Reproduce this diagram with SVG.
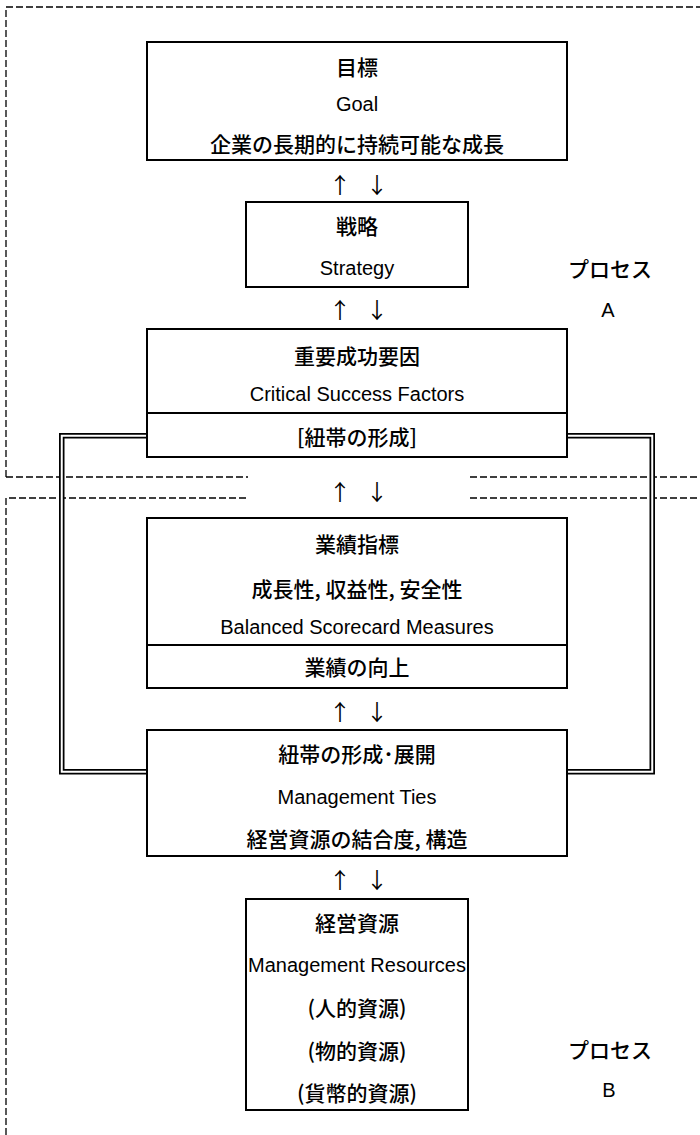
<svg xmlns="http://www.w3.org/2000/svg" width="700" height="1135" viewBox="0 0 700 1135">
<style>
.box{fill:#fff;stroke:#000;stroke-width:2}
.div{stroke:#000;stroke-width:2;fill:none}
.dash{fill:none;stroke:#000;stroke-width:1.3;stroke-dasharray:7 3}
.jp{font-family:"Noto Sans CJK JP","Noto Sans CJK SC",sans-serif;font-size:21px;font-weight:500;fill:#000;text-anchor:middle;dominant-baseline:central}
.en{font-family:"Liberation Sans",Arial,sans-serif;font-size:20px;fill:#000;text-anchor:middle;dominant-baseline:central}
.arr{font-family:"Noto Sans CJK JP",sans-serif;font-size:22px;fill:#000;text-anchor:middle;dominant-baseline:central}
</style>
<rect width="700" height="1135" fill="#fff"/>
<g id="regionA">
<path class="dash" d="M6,477 V7 H700 M6,477 H248 M470,477 H700"/>
</g>
<g id="regionB">
<path class="dash" d="M6,1135 V498 H248 M470,498 H700"/>
</g>
<g id="connectors">
<path d="M147,435.75 H61.75 V771.75 H147 M567,435.75 H652.25 V771.75 H567" fill="none" stroke="#000" stroke-width="5.5"/>
<path d="M147,435.75 H61.75 V771.75 H147 M567,435.75 H652.25 V771.75 H567" fill="none" stroke="#fff" stroke-width="2"/>
<text class="arr" x="340" y="183">↑</text><text class="arr" x="377" y="183">↓</text>
<text class="arr" x="340" y="308">↑</text><text class="arr" x="377" y="308">↓</text>
<text class="arr" x="340" y="490">↑</text><text class="arr" x="377" y="490">↓</text>
<text class="arr" x="340" y="710">↑</text><text class="arr" x="377" y="710">↓</text>
<text class="arr" x="340" y="878">↑</text><text class="arr" x="377" y="878">↓</text>
</g>
<g id="goal">
<rect class="box" x="147" y="42" width="420" height="118"/>
<text class="jp" x="357" y="66">目標</text>
<text class="en" x="357" y="104">Goal</text>
<text class="jp" x="357" y="143">企業の長期的に持続可能な成長</text>
</g>
<g id="strategy">
<rect class="box" x="246" y="202" width="222" height="85"/>
<text class="jp" x="357" y="225">戦略</text>
<text class="en" x="357" y="268">Strategy</text>
</g>
<g id="processA">
<text class="jp" x="610" y="268">プロセス</text>
<text class="en" x="608" y="310">A</text>
</g>
<g id="csf">
<rect class="box" x="147" y="329" width="420" height="128"/>
<line class="div" x1="147" y1="413" x2="567" y2="413"/>
<text class="jp" x="357" y="355">重要成功要因</text>
<text class="en" x="357" y="394">Critical Success Factors</text>
<text class="jp" x="357" y="436">[紐帯の形成]</text>
</g>
<g id="measures">
<rect class="box" x="147" y="518" width="420" height="170"/>
<line class="div" x1="147" y1="645" x2="567" y2="645"/>
<text class="jp" x="357" y="543">業績指標</text>
<text class="jp" x="357" y="588">成長性, 収益性, 安全性</text>
<text class="en" x="357" y="627">Balanced Scorecard Measures</text>
<text class="jp" x="357" y="666">業績の向上</text>
</g>
<g id="ties">
<rect class="box" x="147" y="730" width="420" height="126"/>
<text class="jp" x="357" y="753">紐帯の形成･展開</text>
<text class="en" x="357" y="797">Management Ties</text>
<text class="jp" x="357" y="838">経営資源の結合度, 構造</text>
</g>
<g id="resources">
<rect class="box" x="246" y="899" width="222" height="211"/>
<text class="jp" x="357" y="922">経営資源</text>
<text class="en" x="357" y="965">Management Resources</text>
<text class="jp" x="357" y="1007">(人的資源)</text>
<text class="jp" x="357" y="1050">(物的資源)</text>
<text class="jp" x="357" y="1092">(貨幣的資源)</text>
</g>
<g id="processB">
<text class="jp" x="610" y="1049">プロセス</text>
<text class="en" x="609" y="1090">B</text>
</g>
</svg>
